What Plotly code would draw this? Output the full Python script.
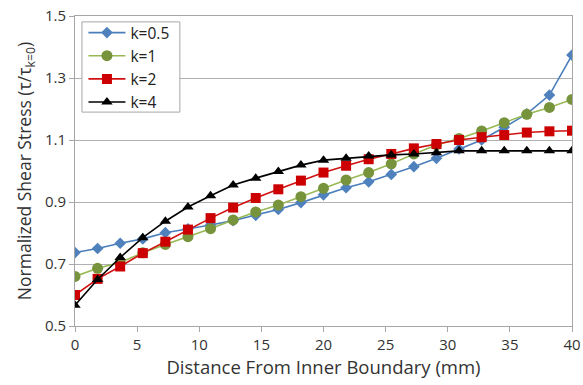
import plotly.graph_objects as go

# Distance from inner boundary (mm): 23 evenly spaced stations from 0 to 40
n_points = 23
distance_mm = [40 * i / (n_points - 1) for i in range(n_points)]

# Normalized shear stress (tau / tau_k=0) for each k
stress_k05 = [0.737, 0.750, 0.767, 0.781, 0.801, 0.813, 0.826, 0.840, 0.857, 0.876,
              0.898, 0.923, 0.946, 0.965, 0.989, 1.014, 1.041, 1.071, 1.100, 1.141,
              1.184, 1.245, 1.374]
stress_k1 = [0.660, 0.686, 0.705, 0.736, 0.763, 0.788, 0.814, 0.842, 0.868, 0.890,
             0.917, 0.944, 0.971, 0.995, 1.023, 1.055, 1.084, 1.105, 1.129, 1.156,
             1.183, 1.205, 1.231]
stress_k2 = [0.600, 0.652, 0.692, 0.735, 0.772, 0.811, 0.848, 0.882, 0.913, 0.941,
             0.969, 0.995, 1.017, 1.038, 1.055, 1.073, 1.087, 1.100, 1.109, 1.116,
             1.124, 1.128, 1.130]
stress_k4 = [0.567, 0.650, 0.721, 0.785, 0.838, 0.884, 0.920, 0.955, 0.977, 0.998,
             1.019, 1.035, 1.041, 1.048, 1.052, 1.055, 1.059, 1.065, 1.065, 1.065,
             1.065, 1.065, 1.065]

series = [
    ("k=0.5", stress_k05, "#4A7EBB", "#4F81BD", "diamond", 9),
    ("k=1", stress_k1, "#98B954", "#77933C", "circle", 11),
    ("k=2", stress_k2, "#D01010", "#CC0000", "square", 10),
    ("k=4", stress_k4, "#000000", "#000000", "triangle-up", 10),
]

fig = go.Figure()
for name, values, line_col, marker_col, symbol, size in series:
    fig.add_trace(go.Scatter(
        x=distance_mm, y=values, name=name, mode="lines+markers",
        line=dict(color=line_col, width=1.6),
        marker=dict(symbol=symbol, size=size, color=marker_col,
                    line=dict(width=0)),
    ))

font_family = "'Open Sans', Lato, sans-serif"
axis_color = "#A6A6A6"
text_color = "#333333"

# Framed white panel behind the legend entries (hides the gridline under it)
fig.add_shape(
    type="rect", xref="paper", yref="paper",
    x0=0.014, x1=0.211, y0=0.690, y1=0.981,
    fillcolor="white", line=dict(color="#A6A6A6", width=1), layer="above",
)

fig.update_layout(
    width=583, height=385,
    margin=dict(l=75, r=11, t=16, b=59),
    paper_bgcolor="white", plot_bgcolor="white",
    font=dict(family=font_family, size=15, color=text_color),
    showlegend=True,
    legend=dict(
        x=0.017, y=1.0, xanchor="left", yanchor="top",
        bgcolor="rgba(0,0,0,0)", borderwidth=0,
        font=dict(size=15.5, color="#222222"),
        itemwidth=37, tracegroupgap=0,
    ),
    xaxis=dict(
        range=[0, 40], dtick=5, tick0=0, automargin=False,
        showgrid=False, zeroline=False,
        showline=True, linecolor=axis_color, linewidth=1, mirror=True,
        ticks="outside", ticklen=5, tickcolor=axis_color,
        tickfont=dict(size=15, color=text_color),
        title=dict(text="Distance From Inner Boundary (mm)",
                   font=dict(size=18.5, color=text_color), standoff=3),
    ),
    yaxis=dict(
        range=[0.5, 1.5], dtick=0.2, tick0=0.5, tickformat=".1f",
        automargin=False,
        showgrid=True, gridcolor="#B0B0B0", gridwidth=1, zeroline=False,
        showline=True, linecolor=axis_color, linewidth=1, mirror=True,
        ticks="outside", ticklen=5, tickcolor=axis_color,
        tickfont=dict(size=15, color=text_color),
        title=dict(text="Normalized Shear Stress (τ/τ<sub>k=0</sub>)",
                   font=dict(size=17.5, color=text_color), standoff=8),
    ),
)

fig.write_html("out.html")
